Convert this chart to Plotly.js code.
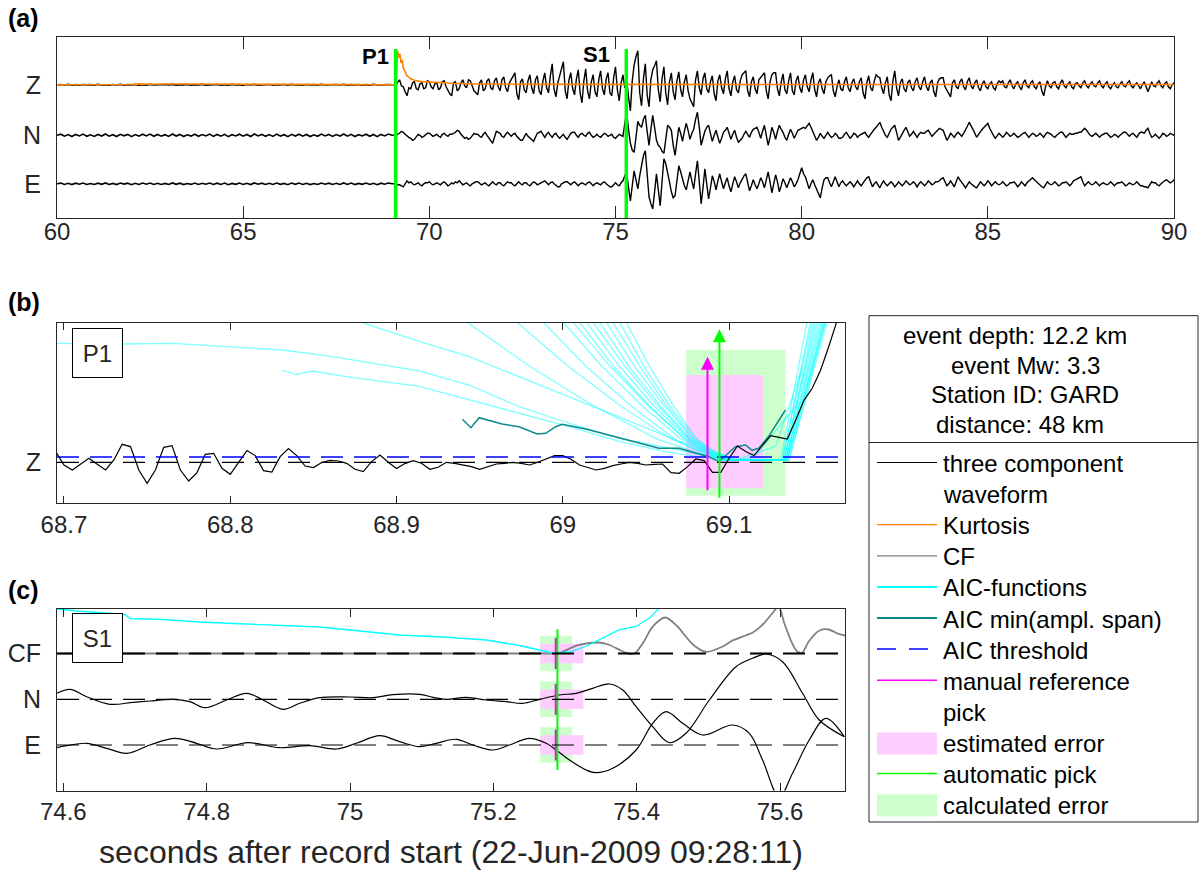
<!DOCTYPE html>
<html>
<head>
<meta charset="utf-8">
<script src="https://cdn.plot.ly/plotly-3.0.1.min.js"></script>
<style>html,body{margin:0;padding:0;background:#fff;}#chart{width:1201px;height:874px;}</style>
</head>
<body>
<div id="chart"></div>
<script>
// ================= DATA =================
// panel (a): pre-event noise, one sample every 0.1 s from 60.0 s to 69.1 s
const preStart = 60.0, preStep = 0.1;
const zPre = [
 0,0.3,-0.2,0.4,-0.3,0.2,-0.4,0.3,-0.1,0.2,
 -0.3,0.4,-0.2,0.1,-0.4,0.3,-0.2,0.4,-0.3,0.2,
 -0.1,0.3,-0.4,0.2,-0.3,0.4,-0.2,0.1,-0.3,0.3,
 -0.2,0.4,-0.3,0.2,-0.1,0.3,-0.4,0.2,-0.2,0.4,
 -0.3,0.1,-0.2,0.3,-0.4,0.2,-0.3,0.4,-0.1,0.2,
 -0.3,0.3,-0.2,0.4,-0.3,0.1,-0.2,0.3,-0.4,0.2,
 -0.1,0.3,-0.3,0.4,-0.2,0.2,-0.4,0.3,-0.1,0.2,
 -0.3,0.4,-0.2,0.1,-0.3,0.3,-0.2,0.4,-0.3,0.2,
 -0.1,0.3,-0.4,0.2,-0.3,0.4,-0.2,0.1,-0.3,0.2,
 0,0];
const nPre = [
 0,1.1,-0.9,0.7,-1.2,0.9,-0.6,1.2,-1,0.5,
 -1.1,0.8,-0.7,1.3,-0.9,0.6,-1.2,1,-0.5,0.9,
 -1.3,0.7,-0.8,1.1,-0.6,1.2,-1,0.8,-0.9,0.6,
 -1.1,1.3,-0.7,0.9,-1.2,0.5,-0.8,1.1,-1,0.7,
 -0.6,1.2,-1.1,0.8,-0.9,1,-1.3,0.6,-0.7,1.1,
 -0.9,0.8,-1.2,1.3,-0.6,0.9,-1,0.7,-1.1,1.2,
 -0.8,0.6,-1.3,1,-0.7,1.1,-0.9,0.8,-1.2,0.5,
 -1,1.2,-0.6,0.9,-1.1,0.7,-0.8,1.3,-0.9,1,
 -1.2,0.6,-0.7,1.1,-1,0.8,-1.3,0.9,-0.6,1.2,
 0,0];
const ePre = [
 0,0.7,-0.6,0.5,-0.8,0.6,-0.4,0.8,-0.7,0.3,
 -0.7,0.6,-0.5,0.9,-0.6,0.4,-0.8,0.7,-0.3,0.6,
 -0.9,0.5,-0.6,0.7,-0.4,0.8,-0.7,0.5,-0.6,0.4,
 -0.7,0.9,-0.5,0.6,-0.8,0.3,-0.6,0.7,-0.7,0.5,
 -0.4,0.8,-0.7,0.6,-0.6,0.7,-0.9,0.4,-0.5,0.7,
 -0.6,0.5,-0.8,0.9,-0.4,0.6,-0.7,0.5,-0.7,0.8,
 -0.5,0.4,-0.9,0.7,-0.5,0.7,-0.6,0.5,-0.8,0.3,
 -0.7,0.8,-0.4,0.6,-0.7,0.5,-0.6,0.9,-0.6,0.7,
 -0.8,0.4,-0.5,0.7,-0.7,0.5,-0.9,0.6,-0.4,0.8,
 0,0];
// panel (a): event part, one sample every 0.05 s from 69.1 s (one row = 1 s)
const evtStart = 69.1, evtStep = 0.05;
const zEvt = [
 0,3,5,-1,-2,-7,-11,-3,-4,2,3,-4,-5,1,2,-4,-3,4,3,-2,
 -4,1,2,-5,-3,3,4,-2,-6,-9,-11,2,3,-6,-4,2,5,-1,-3,5,
 4,-2,-6,-8,-10,2,5,-6,-4,4,6,-3,-5,4,7,-2,-6,5,8,-3,
 -7,2,5,9,12,-9,-15,3,6,-5,-8,4,10,-3,-9,5,9,-6,-10,4,
 12,-3,-8,9,21,-4,-12,2,10,16,23,-6,-14,5,12,-4,-10,6,15,-8,
 -18,4,16,-6,-14,3,10,-7,-12,5,14,-4,-10,6,12,-8,-11,7,18,-5,
 -16,2,10,-3,5,-12,-26,4,20,28,34,-8,-21,6,21,-10,-22,5,15,19,
 24,-5,-17,6,18,-8,-20,3,12,-7,-15,4,13,-5,-12,3,10,-6,-14,-18,
 -22,5,14,-3,-10,6,12,-4,-8,3,9,-9,-16,4,10,-3,-9,6,14,-4,
 -11,3,9,-5,-8,4,10,12,14,-6,-12,3,8,-4,-9,5,7,10,12,-6,
 -14,3,10,12,12,-4,-11,3,11,-5,-9,4,12,-6,-10,4,9,-3,-8,5,
 10,-2,-7,5,12,-5,-12,2,6,-4,-9,3,7,9,10,-6,-12,-2,5,-4,
 -6,3,8,-3,-7,2,6,-2,-5,3,7,-8,-14,2,9,-3,-6,4,10,8,
 7,-3,-9,2,8,-10,-16,4,14,-3,-11,2,6,-4,-7,2,5,-3,-6,3,
 7,-2,-5,3,8,-2,-6,2,5,-7,-12,2,6,7,7,-2,-5,-9,-12,2,
 5,-2,-4,3,6,-2,-5,3,7,-1,-4,2,5,-3,-6,1,4,-2,-4,1,
 3,-3,-5,1,4,2,4,-2,-3,2,5,-1,-4,1,3,-2,-5,2,5,-1,
 -3,2,4,-2,-4,1,3,-6,-11,-2,4,-1,-3,2,3,-2,-4,2,5,-1,
 -3,1,3,-2,-4,1,2,-1,-3,2,4,-1,-3,1,3,-1,-2,2,4,-1,
 -3,1,3,-2,-4,0,2,-2,-3,1,3,-1,-2,2,4,-1,-3,0,2,-1,
 -4,0,3,-2,-7,-2,3,-1,-2,2,4,-1,-3,1,3,-2,-4,0,2,1
];
const nEvt = [
 0,1,2,4,3,1,-1,-2,-3,-5,-4,-1,1,0,-2,-1,1,2,2,0,
 -1,0,1,-1,-2,1,2,0,-1,1,1,2,3,5,4,1,-1,-3,-2,-4,
 -3,0,2,1,1,-1,-2,1,3,0,-3,-6,-8,-2,4,3,2,-1,-2,1,
 3,1,-1,1,2,-1,-3,-5,-5,-1,2,-1,-3,-5,-6,-2,2,3,4,1,
 -2,1,3,0,-2,1,2,-1,-3,-1,1,-2,-4,-1,2,3,3,0,-2,1,
 2,0,-1,2,3,0,-2,-1,1,-1,-2,0,2,1,-1,0,1,-2,-3,-1,
 1,0,-1,12,23,6,-8,-15,-17,-2,14,10,8,16,20,4,-10,6,20,8,
 -5,-10,-12,-16,-18,-4,10,8,5,-10,-20,-6,8,2,-6,4,12,5,-4,2,
 6,16,23,8,-10,-3,4,8,10,2,-6,0,5,-2,-8,-3,3,5,8,2,
 -4,1,5,-2,-7,-5,-3,1,4,1,-2,3,6,7,8,3,-3,4,10,0,
 -10,-2,8,3,-4,4,10,6,3,-2,-5,1,6,2,-3,1,5,6,7,8,
 7,10,12,8,3,-2,-5,-2,2,-1,-3,0,3,0,-2,-1,2,0,-3,-3,
 -2,1,3,0,-3,-1,2,1,-2,0,1,2,3,0,-2,1,4,6,8,11,
 13,8,3,0,-2,2,6,8,10,3,-5,-2,2,5,8,4,-1,1,4,1,
 -2,1,3,2,2,4,5,2,-1,1,3,5,7,6,5,0,-5,-2,2,0,
 -2,1,3,1,-1,2,5,9,13,10,6,2,-2,1,4,6,8,10,12,7,
 3,0,-3,-1,2,0,-2,0,3,1,-1,0,2,0,-2,-1,1,2,3,0,
 -2,0,2,1,-1,0,2,0,-2,1,3,2,1,-1,-2,0,2,3,3,0,
 -2,0,2,1,1,2,2,3,3,5,7,5,2,0,-1,1,2,0,-2,0,
 1,2,2,0,-2,-1,1,0,-2,0,2,3,3,1,-1,1,2,0,-2,1,
 3,3,2,5,7,2,-2,-1,1,-1,-3,-1,2,1,-1,0,2,1,0,0
];
const eEvt = [
 0,-1,-1,-2,-3,0,3,1,2,0,-1,0,1,-1,-2,0,1,1,2,0,
 -1,0,1,0,-1,1,2,0,-2,-1,1,0,2,1,3,1,-1,0,1,-1,
 -2,0,1,2,2,0,-1,0,1,-1,-2,0,2,0,-1,1,1,-1,-2,0,
 2,1,1,-1,-2,0,2,0,-1,1,1,-1,-2,0,2,1,-1,0,1,2,
 3,1,-1,1,2,0,-2,-3,-3,0,1,2,2,0,-1,1,2,0,-2,0,
 1,0,-1,1,2,0,-2,0,1,0,-1,1,2,0,-2,-3,-3,-1,1,-1,
 -2,1,3,8,12,-4,-17,-2,13,4,-5,8,20,28,33,10,-13,-20,-25,-8,
 10,-6,-22,2,25,20,12,2,-8,-14,-12,6,18,12,5,-2,-6,4,12,3,
 -5,10,23,2,-20,-4,15,0,-15,-4,8,2,-6,3,10,2,-5,1,6,-2,
 -8,0,7,2,-4,1,5,8,10,1,-7,-2,4,-1,-5,0,6,2,-4,4,
 12,2,-9,0,9,2,-8,-2,5,1,-4,1,6,2,-3,0,4,10,16,10,
 7,1,-5,0,4,-1,-6,-10,-14,-4,4,6,6,1,-3,2,7,2,-3,1,
 3,0,-2,0,2,0,-3,0,3,0,-2,1,4,6,7,2,-3,0,2,-1,
 -4,0,3,0,-2,0,2,0,-3,-1,2,0,-2,0,3,1,-1,0,2,0,
 -3,0,2,0,-2,0,3,1,-1,0,2,2,3,5,6,2,-2,0,3,0,
 -3,2,7,4,2,-1,-4,-1,2,0,-2,-3,-4,-1,2,0,-2,0,3,1,
 -2,0,2,0,-1,0,2,0,-2,-1,1,1,2,0,-3,-1,2,0,-2,1,
 3,5,6,4,2,0,-2,-3,-4,-1,2,0,-1,0,2,0,-2,-1,1,1,
 2,0,-2,0,3,4,5,6,7,2,-2,0,2,0,-1,0,2,0,-2,0,
 1,0,-1,0,2,0,-2,0,1,1,2,0,-2,-1,1,0,-1,0,2,0,
 -2,-2,-3,-3,-4,-1,2,1,1,-1,-2,0,2,3,4,2,1,2,4,3
];
// kurtosis characteristic function on Z
const kurtT = [60,61,62,62.2,62.5,63,63.5,64,64.5,65,66,67,68,69,69.09,69.12,69.15,69.18,69.21,69.24,69.27,69.3,69.35,69.4,69.5,69.6,69.8,70.0,70.3,70.6,71,71.5,72,74,76,78,80,85,90];
const kurtAmp = [0,0,0.3,0.9,0.5,0.8,0.6,0.8,0.3,0.5,0.4,0.2,0.1,0,0,14,34,27,31,22,25,17,12,9,6,4.5,3.2,2.6,2,1.5,1,0.7,0.5,0.4,0.3,0.3,0.3,0.3,0.3];

// picks (s)
const pickAutoP = 69.0942, pickManualP = 69.0870;
const pickAutoS = 75.2894, pickManualS = 75.2877;
const estErrP = [69.0742, 69.1203], calcErrP = [69.0742, 69.1339];
const estErrS = [75.2654, 75.3257], calcErrS = [75.2654, 75.3100];

// panel (b): Z zoom around P1, 200 Hz from 68.695 s
const zoomStart = 68.695, zoomStep = 0.005;
const zoomZ = [10.7,-2.7,-7.7,-2,4,-2,-7.7,2.3,18,15.7,
 -7.7,-21,-7.7,15,16.7,-7.7,-18.7,-10.3,8,9,
 -6,-12,0,11.7,6.7,-8.3,-9.7,5.7,13.7,6.7,
 -3.7,-5.3,-0.3,2,1.3,-1,-7,-9.3,0.7,7.3,
 0,-6.3,-1.3,1.7,-1,-7,-5,0,-1,-2.7,
 -4.3,-7,-4.3,-1.7,-1,0,-1,-2.7,0,3,
 6.7,6.7,3,-2.7,-5,-7.7,-6,-3.3,-1.7,0,
 -1,-2.7,-2,-1.7,-10.3,-11,-4.3,3.3,1.7,-10,
 -10,4,16.3,10.7,6.7,17,26.7,25,23.3,42,
 62,74,92,116,142];
const aicThreshold = 5.3;
// AIC functions (time, value)
const aicT = [
 [68.6958,68.7351,68.7655,68.8015,68.8315,68.8616,68.8916,68.9136,68.9437,68.9737,68.9977,69.0338,69.0698,69.097,69.131,69.147],
 [68.8306,68.8396,68.8496,68.8696,68.9136,68.9437,68.9737,69.0037,69.0338,69.0638,69.097,69.132,69.149],
 [68.8766,68.9136,68.9437,68.9737,69.0037,69.0338,69.0638,69.097,69.132,69.150],
 [68.9417,68.98,69.018,69.057,69.084,69.097,69.105,69.128,69.1439],
 [68.9717,69.0025,69.0334,69.0642,69.085,69.098,69.115,69.142],
 [68.9877,69.0145,69.0414,69.0682,69.086,69.099,69.133,69.151],
 [68.9997,69.0235,69.0474,69.0712,69.087,69.100,69.133,69.152],
 [69.0057,69.028,69.0504,69.0727,69.087,69.100,69.133,69.153],
 [69.0097,69.031,69.0524,69.0737,69.088,69.101,69.134,69.154],
 [69.0138,69.0341,69.0544,69.0747,69.088,69.101,69.134,69.155],
 [69.0177,69.037,69.0564,69.0757,69.089,69.102,69.134,69.156],
 [69.0218,69.0401,69.0584,69.0767,69.089,69.102,69.135,69.157],
 [69.0258,69.0431,69.0604,69.0777,69.090,69.103,69.135,69.157],
 [69.0297,69.046,69.0624,69.0787,69.090,69.103,69.135,69.158],
 [69.0338,69.0491,69.0644,69.0797,69.091,69.104,69.136,69.158],
 [69.0378,69.0521,69.0664,69.0807,69.091,69.104,69.136,69.159]
];
const aicV = [
 [119,118.3,119,115.6,112.3,105.6,97.3,91.5,77.3,55.6,42.3,24,12.3,2,2,141],
 [92.3,88,91.3,85.6,76,62.3,49,35.6,21,10,2,2,141],
 [141,121,105.6,85.6,65.6,45.6,25.6,3,3,141],
 [141,96,57,23,8,2,3,16,94],
 [141,97,58,24,9,2,5,60],
 [141,95,56,22,8,2,2,141],
 [141,96,57,23,9,2,2,141],
 [141,97,58,24,10,2,2,141],
 [141,95,56,23,9,2,2,141],
 [141,96,57,24,10,2,2,141],
 [141,97,58,24,10,2,2,141],
 [141,95,57,23,10,2,2,141],
 [141,96,58,24,10,2,3,141],
 [141,97,57,23,11,2,3,141],
 [141,95,56,24,11,2,2,141],
 [141,96,57,23,11,2,2,141]
];
const aicMinT = [68.9396,68.9447,68.9497,68.9635,68.9737,68.9845,68.9897,68.9957,68.9995,69.0138,69.0338,69.0578,69.0698,69.0798,69.0878,69.0938,69.1038,69.1099,69.1138,69.1178,69.1238,69.1339];
const aicMinV = [43,34.6,44.6,38.3,35.6,28.3,29,35.6,38,33.3,24.6,14,14,9.6,5.6,0.6,15.6,17.3,12,14,26,52.3];

// panel (c): S1 zoom
const cfT = [74.5912,75.20,75.28,75.29,75.318,75.346,75.36,75.378,75.3875,75.397,75.41,75.422,75.44,75.457,75.465,75.48,75.497,75.52,75.533,75.552,75.562,75.575,75.589,75.598,75.606,75.617,75.624,75.631,75.64,75.655,75.668,75.68,75.6906];
const cfV = [0,0,0,0,8.3,11,9,3,0,0,12,26.7,36,27,20,8,1.7,7,12.7,18,21,28.3,40,47,30,10,2,1,12,23,24,20,18];
const aicST = [74.5912,74.62,74.686,74.693,74.739,74.79,74.837,74.907,74.958,75.0,75.069,75.097,75.13,75.19,75.236,75.283,75.306,75.329,75.357,75.375,75.399,75.418,75.432];
const aicSV = [44.5,42.5,39,35,34,31.5,30,28,26.5,23.5,18.5,17.5,16.5,13.5,8,0.5,1.5,7,17,23.7,27,35.4,46];
const nT = [74.5908,74.6093,74.6326,74.665,74.6976,74.7208,74.7533,74.7766,74.7975,74.8277,74.8556,74.8787,74.9066,74.9299,74.9578,74.9996,75.0321,75.0599,75.0971,75.1157,75.1344,75.1622,75.1901,75.218,75.2411,75.2644,75.2923,75.3155,75.3387,75.3619,75.3805,75.3992,75.4223,75.4456,75.4688,75.5013,75.5385,75.5617,75.5803,75.6035,75.6314,75.6546,75.6895];
const nV = [6,10,2.6,-5,-3,-1.7,0,-2.4,-8.4,-0.7,6,-0.7,-10,-4,1.6,2.3,1.6,4.6,5,2,0,2,-0.7,-2.4,-4,0,4.3,6,11,15.3,9.3,-7.4,-27.4,-43.4,-34,-0.7,32.6,41,45.3,37.6,6,-20.7,-37.4];
const eT = [74.5908,74.6047,74.6326,74.6605,74.6884,74.7208,74.7557,74.7859,74.8138,74.8578,74.902,74.9438,74.981,75.0089,75.0414,75.0693,75.0971,75.1204,75.1483,75.1714,75.1993,75.2226,75.2504,75.2737,75.2877,75.3062,75.3295,75.3434,75.3666,75.3992,75.4223,75.441,75.4641,75.492,75.5338,75.5571,75.5756,75.5989,75.6174,75.6407,75.664,75.6895];
const eV = [-2.7,-0.7,1.7,-3.3,-8.3,0,6.7,1.7,-4,2.3,-2.7,-0.7,-4,1.7,9.3,3.3,-1.7,1.7,5.7,0,-5,0,6.7,1.7,-5,-15,-25,-27.7,-23.3,-5,21.7,33.3,21.7,10,20,11.7,-15,-52,-28.3,5,26.7,8.3];

// text
const componentsA = ['E','N','Z'];
const componentsC = ['E','N','CF'];
const infoLines = ['event depth: 12.2 km','event Mw: 3.3','Station ID: GARD','distance: 48 km'];
const legendRows = ['three component','waveform','Kurtosis','CF','AIC-functions','AIC min(ampl. span)','AIC threshold','manual reference','pick','estimated error','automatic pick','calculated error'];
const xTicksA = [60,65,70,75,80,85,90];
const xTicksB = [68.7,68.8,68.9,69,69.1];
const xTicksC = [74.6,74.8,75,75.2,75.4,75.6];

// ================= LAYOUT / STYLE =================
const W = 1201, H = 874;
const px = v => v / W;
const py = v => 1 - v / H;
const FONT = 'Liberation Sans, Arial, Helvetica, sans-serif';
const AXC = '#262626';
const C = {black:'#000000', orange:'#ff8000', grey:'#808080', cyan:'#00ffff', cyanA:'rgba(0,255,255,0.5)',
  teal:'#118888', blue:'#0000ff', magenta:'#ff00ff', green:'#00ff00', pink:'#ffccff', lgreen:'#ccffcc'};
const offA = {E:0, N:48.5, Z:99};
const offC = {E:0, N:45.7, CF:91.5};
const DASH = '22px,11px';

const traces = [];
const L = (o) => Object.assign({type:'scatter', mode:'lines', hoverinfo:'skip', showlegend:false}, o);

// ---- panel (a)
[['E', ePre, eEvt], ['N', nPre, nEvt], ['Z', zPre, zEvt]].forEach(([c, pre, evt]) => {
  traces.push(L({x0: preStart, dx: preStep, y: pre.map(v => v + offA[c]), xaxis:'x', yaxis:'y',
    line:{color:C.black, width:1.6}}));
  traces.push(L({x0: evtStart, dx: evtStep, y: evt.map(v => v + offA[c]), xaxis:'x', yaxis:'y',
    line:{color:C.black, width:1.4}}));
});
traces.push(L({x: kurtT, y: kurtAmp.map(v => v + offA.Z), xaxis:'x', yaxis:'y', line:{color:C.orange, width:1.6}}));
traces.push(L({x:[pickAutoP,pickAutoP,null,pickAutoS,pickAutoS], y:[-40,134.8,null,-40,134.8], xaxis:'x', yaxis:'y',
  line:{color:C.green, width:3.5}}));

// ---- panel (b)
const rectPath = (t, lo, hi) => ({x:[t[0],t[1],t[1],t[0],t[0]], y:[lo,lo,hi,hi,lo]});
traces.push(L(Object.assign(rectPath(calcErrP, -33.4, 112.3), {fill:'toself', fillcolor:C.lgreen, line:{width:0, color:C.lgreen}, xaxis:'x2', yaxis:'y2'})));
traces.push(L(Object.assign(rectPath(estErrP, -26, 87.3), {fill:'toself', fillcolor:C.pink, line:{width:0, color:C.pink}, xaxis:'x2', yaxis:'y2'})));
aicT.forEach((t, i) => traces.push(L({x:t, y:aicV[i], xaxis:'x2', yaxis:'y2', line:{color:C.cyanA, width:1.3}})));
traces.push(L({x:aicMinT, y:aicMinV, xaxis:'x2', yaxis:'y2', line:{color:C.teal, width:1.5}}));
traces.push(L({x0: zoomStart, dx: zoomStep, y: zoomZ, xaxis:'x2', yaxis:'y2', line:{color:C.black, width:1.2}}));

// ---- panel (c)
const rowsRect = (t, h) => {
  const x = [], y = [];
  componentsC.forEach(c => { const o = offC[c];
    x.push(t[0],t[1],t[1],t[0],t[0],null); y.push(o-h,o-h,o+h,o+h,o-h,null); });
  return {x, y};
};
traces.push(L(Object.assign(rowsRect(calcErrS, 17.8), {fill:'toself', fillcolor:C.lgreen, line:{width:0, color:C.lgreen}, xaxis:'x3', yaxis:'y3'})));
traces.push(L(Object.assign(rowsRect(estErrS, 9.7), {fill:'toself', fillcolor:C.pink, line:{width:0, color:C.pink}, xaxis:'x3', yaxis:'y3'})));
traces.push(L({x:cfT, y:cfV.map(v => v + offC.CF), xaxis:'x3', yaxis:'y3', line:{color:C.grey, width:1.8, shape:'spline', smoothing:0.8}}));
traces.push(L({x:aicST, y:aicSV.map(v => v + offC.CF), xaxis:'x3', yaxis:'y3', line:{color:C.cyan, width:1.3}}));
traces.push(L({x:nT, y:nV.map(v => v + offC.N), xaxis:'x3', yaxis:'y3', line:{color:C.black, width:1.2, shape:'spline', smoothing:1}}));
traces.push(L({x:eT, y:eV.map(v => v + offC.E), xaxis:'x3', yaxis:'y3', line:{color:C.black, width:1.2, shape:'spline', smoothing:1}}));
(() => { const x = [], y = [];
  componentsC.forEach(c => { x.push(pickManualS, pickManualS, null); y.push(offC[c]-15.5, offC[c]+15.5, null); });
  traces.push(L({x, y, xaxis:'x3', yaxis:'y3', line:{color:C.magenta, width:3}}));
})();
traces.push(L({x:[pickAutoS, pickAutoS], y:[-25, 115.7], xaxis:'x3', yaxis:'y3', line:{color:C.green, width:2}}));

// ---- axes
const baseX = (dom, range, ticks, tl, anchor) => ({domain:dom, range, tickvals:ticks, ticks:'inside', ticklen:tl,
  tickwidth:1, tickcolor:AXC, showline:true, linecolor:AXC, linewidth:1, mirror:'allticks', showgrid:false,
  zeroline:false, anchor, tickfont:{size:24, color:AXC, family:FONT}, fixedrange:true});
const baseY = (dom, range, vals, text, anchor) => ({domain:dom, range, tickvals:vals, ticktext:text, ticks:'',
  showline:true, linecolor:AXC, linewidth:1, mirror:true, showgrid:false, zeroline:false, anchor,
  tickfont:{size:25, color:AXC, family:FONT}, ticklabelstandoff:10, fixedrange:true});

const layout = {
  width:W, height:H, margin:{l:0, r:0, t:0, b:0}, paper_bgcolor:'#ffffff', plot_bgcolor:'#ffffff',
  showlegend:false, font:{family:FONT, size:24, color:AXC},
  xaxis: Object.assign(baseX([px(57), px(1174)], [60, 90], xTicksA, 12, 'y'), {ticklabelstandoff:-8}),
  yaxis: baseY([py(218), py(37)], [-34.2, 146.8], componentsA.map(c => offA[c]), componentsA, 'x'),
  xaxis2: baseX([px(57), px(845)], [68.6958, 69.1697], xTicksB, 7, 'y2'),
  yaxis2: baseY([py(503), py(323)], [-40.7, 139.3], [0], ['Z'], 'x2'),
  xaxis3: Object.assign(baseX([px(57), px(845)], [74.5912, 75.6906], xTicksC, 8, 'y3'),
    {title:{text:'seconds after record start (22-Jun-2009 09:28:11)', font:{size:32, color:AXC, family:FONT}, standoff:16}}),
  yaxis3: baseY([py(790.5), py(608.5)], [-45.5, 136.5], componentsC.map(c => offC[c]), componentsC, 'x3'),
  shapes: [], annotations: []
};

// dashed baselines / threshold
const hline = (xr, yr, y, color, w) => ({type:'line', xref:xr + ' domain', x0:0, x1:1, yref:yr, y0:y, y1:y,
  line:{color, width:w, dash:DASH}, layer:'above'});
layout.shapes.push(hline('x2','y2', 0, C.black, 1.3));
layout.shapes.push(hline('x2','y2', aicThreshold, C.blue, 1.3));
layout.shapes.push(hline('x3','y3', offC.CF, C.black, 2));
layout.shapes.push(hline('x3','y3', offC.N, C.black, 1.2));
layout.shapes.push(hline('x3','y3', offC.E, C.black, 1.2));

// pick arrows in (b)
layout.annotations.push({xref:'x2', yref:'y2', x:pickManualP, y:105.6, axref:'x2', ayref:'y2', ax:pickManualP, ay:-29.4,
  showarrow:true, arrowhead:2, arrowsize:1.3, arrowwidth:2, arrowcolor:C.magenta, text:''});
layout.annotations.push({xref:'x2', yref:'y2', x:pickAutoP, y:133, axref:'x2', ayref:'y2', ax:pickAutoP, ay:-37,
  showarrow:true, arrowhead:2, arrowsize:1.3, arrowwidth:2, arrowcolor:C.green, text:''});

// panel letters and labels
const txt = (x, y, text, o) => Object.assign({xref:'paper', yref:'paper', x:px(x), y:py(y), text, showarrow:false,
  xanchor:'left', yanchor:'middle', font:{size:24, color:'#000', family:FONT}}, o || {});
layout.annotations.push(txt(6, 18, '<b>(a)</b>', {font:{size:25, color:'#000', family:FONT}}));
layout.annotations.push(txt(6, 302, '<b>(b)</b>', {font:{size:25, color:'#000', family:FONT}}));
layout.annotations.push(txt(6, 590, '<b>(c)</b>', {font:{size:25, color:'#000', family:FONT}}));
layout.annotations.push(txt(391, 57, '<b>P1</b>', {xanchor:'right', font:{size:22, color:'#000', family:FONT}}));
layout.annotations.push(txt(612, 54, '<b>S1</b>', {xanchor:'right', font:{size:22, color:'#000', family:FONT}}));
const boxLabel = (x, y, text) => txt(x, y, text, {xanchor:'center', bordercolor:'#000', borderwidth:1, bgcolor:'#fff',
  borderpad:0, width:49, height:48, font:{size:24, color:'#262626', family:FONT}});
layout.annotations.push(boxLabel(97.5, 353, 'P1'));
layout.annotations.push(boxLabel(97.5, 638, 'S1'));

// legend box (info + keys)
layout.shapes.push({type:'rect', xref:'paper', yref:'paper', x0:px(869), x1:px(1198), y0:py(822), y1:py(315.7),
  line:{color:AXC, width:1}, fillcolor:'rgba(0,0,0,0)', layer:'above'});
layout.shapes.push({type:'line', xref:'paper', yref:'paper', x0:px(869), x1:px(1198), y0:py(442.5), y1:py(442.5),
  line:{color:AXC, width:1}, layer:'above'});
const infoCx = [1015.5, 1025.8, 1024.7, 1020.5];
infoLines.forEach((s, k) => layout.annotations.push(txt(infoCx[k], 335.7 + 29.5 * k, s, {xanchor:'center'})));
const rowY = k => 463.5 + 31.1 * k;
legendRows.forEach((s, k) => layout.annotations.push(txt(941, rowY(k), s)));
const keyLine = (k, color, w, dash) => layout.shapes.push({type:'line', xref:'paper', yref:'paper', x0:px(877), x1:px(937),
  y0:py(rowY(k) - 1), y1:py(rowY(k) - 1), line:{color, width:w, dash:dash || 'solid'}, layer:'above'});
const keyRect = (k, color) => layout.shapes.push({type:'rect', xref:'paper', yref:'paper', x0:px(877), x1:px(937),
  y0:py(rowY(k) + 11), y1:py(rowY(k) - 11), line:{width:0}, fillcolor:color, layer:'above'});
keyLine(0, C.black, 1.2);
keyLine(2, C.orange, 1.3);
keyLine(3, C.grey, 1.3);
keyLine(4, C.cyan, 2);
keyLine(5, C.teal, 2);
keyLine(6, C.blue, 1.5, '19px,13px');
keyLine(7, C.magenta, 1.5);
keyRect(9, C.pink);
keyLine(10, C.green, 1.5);
keyRect(11, C.lgreen);

Plotly.newPlot('chart', traces, layout, {displayModeBar:false, staticPlot:true});
</script>
</body>
</html>
